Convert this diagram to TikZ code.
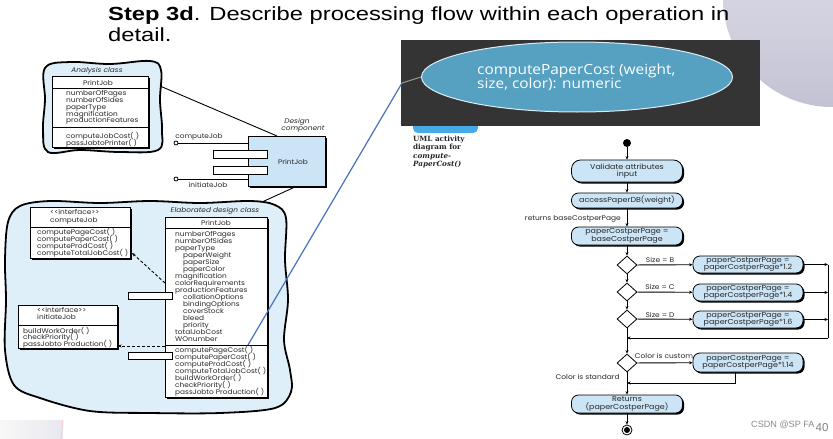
\documentclass[tikz,border=0pt]{standalone}
\usepackage{fontspec}
\setmainfont{Liberation Sans}
\newfontfamily\titlefont[FakeStretch=1.25]{Liberation Sans}
\newfontfamily\gfont[FakeStretch=1.1]{Poppins}
\newfontfamily\ofont[FakeStretch=1.1]{Open Sans}
\newfontfamily\sfont{DejaVu Serif}
\newcommand\mytight{\lineskiplimit=-20pt\relax}
\usetikzlibrary{shapes.geometric,arrows.meta,shadows}
\definecolor{cloudblue}{RGB}{223,239,250}
\definecolor{nodeblue}{RGB}{204,229,246}
\definecolor{darkbg}{RGB}{52,52,52}
\definecolor{ellblue}{RGB}{86,160,194}
\definecolor{linkblue}{RGB}{70,115,190}
\definecolor{circA}{RGB}{232,232,240}
\definecolor{circB}{RGB}{194,194,212}
\definecolor{wmgray}{RGB}{140,140,140}
\definecolor{barblue}{RGB}{70,170,230}
\definecolor{txt}{RGB}{40,40,40}
\tikzset{
 sh/.style={drop shadow={shadow xshift=1.6pt,shadow yshift=-1.6pt,fill=black,opacity=1}},
 classbox/.style={draw=black, line width=0.8pt, fill=white, sh, inner sep=0pt, anchor=north west},
 port/.style={draw=black, line width=0.8pt, fill=white, inner sep=0pt, anchor=north west},
 tx/.style={font=\gfont\fontsize{6.7}{7}\selectfont\mytight, text=txt, inner sep=0pt, align=left},
 itx/.style={font=\gfont\itshape\fontsize{6.7}{7}\selectfont, text=txt, inner sep=0pt},
 cloudshape/.style={draw=black, line width=1.8pt, fill=cloudblue},
 act/.style={draw=black, line width=0.8pt, fill=nodeblue, rounded corners=7pt, sh, inner sep=0pt, align=center, text=txt, font=\gfont\fontsize{7.2}{7.4}\selectfont\mytight, minimum width=111pt},
 dec/.style={diamond, draw=black, line width=0.8pt, fill=white, inner sep=0pt, minimum width=20pt, minimum height=18pt},
 flow/.style={line width=0.9pt, -{Stealth[length=3.5pt,width=3pt]}},
 lab/.style={font=\gfont\fontsize{6.8}{7}\selectfont, text=txt, inner sep=0pt},
 dashlink/.style={line width=0.9pt, dash pattern=on 3pt off 2pt, -{Stealth[length=3.5pt,width=3pt]}},
}
\begin{document}
\begin{tikzpicture}[x=1pt,y=-1pt]
\path[use as bounding box] (0,0) rectangle (833,439);
\fill[white] (0,0) rectangle (833,439);
% decorations of the slide
\shade[top color=circA, bottom color=circB] (832,-2) circle[radius=109pt];
\shade[left color=white!94!gray, right color=circA] (0,420) rectangle (63,439);
\draw[red!25, line width=0.6pt] (63,420) -- (61,439);
% title
\node[anchor=base west, inner sep=0pt, font=\titlefont\fontsize{19}{22}\selectfont] (title1) at (108,20.5) {\textbf{Step 3d}. Describe processing flow within each operation in};
\node[anchor=base west, inner sep=0pt, font=\titlefont\fontsize{19}{22}\selectfont] (title2) at (108,41.5) {detail.};

% ---------- analysis class cloud ----------
\draw[cloudshape] plot[smooth cycle, tension=0.6] coordinates {(45,68) (70,62) (110,64) (150,61) (161,70) (160,100) (162,130) (158,150) (120,152) (80,150) (48,152) (43,130) (45,100)};
\node[itx] (anl) at (97,71) {Analysis class};
\node[classbox, minimum width=96pt, minimum height=71pt] (ac) at (52,76) {};
\draw[line width=0.8pt] (52,88) -- (148,88);
\draw[line width=0.8pt] (52,127) -- (148,127);
\node[tx] (acn) at (98,83) {PrintJob};
\node[tx, anchor=north west, font=\gfont\fontsize{6.7}{6.75}\selectfont\mytight] (aca) at (66,90.5) {numberOfPages\\numberOfSides\\paperType\\magnification\\productionFeatures};
\node[tx, anchor=north west, font=\gfont\fontsize{6.7}{7}\selectfont\mytight] (acm) at (66,132.5) {computeJobCost( )\\passJobtoPrinter( )};

% ---------- design component ----------
\coordinate (acR) at (160,86);
\coordinate (compT) at (277,136);
\draw[line width=0.9pt] (acR) -- (compT);
\node[classbox, fill=nodeblue, minimum width=77pt, minimum height=50pt] (comp) at (248,136) {};
\node[tx] (compn) at (293,162) {PrintJob};
\node[port, minimum width=54pt, minimum height=8pt] (cp1) at (213,150) {};
\node[port, minimum width=54pt, minimum height=8pt] (cp2) at (213,166) {};
\node[circle, draw, line width=0.8pt, fill=white, inner sep=0pt, minimum size=4pt] (lpA) at (176,143) {};
\node[circle, draw, line width=0.8pt, fill=white, inner sep=0pt, minimum size=4pt] (lpB) at (176,179) {};
\draw[line width=0.8pt] (lpA) -- (comp.west |- lpA);
\draw[line width=0.8pt] (lpB) -- (comp.west |- lpB);
\node[tx] (lpAl) at (199,137) {computeJob};
\node[tx] (lpBl) at (208,185) {initiateJob};
\node[itx] (dc1) at (297,122) {Design};
\node[itx] (dc2) at (303,129.5) {component};

% ---------- elaborated design class cloud ----------
\coordinate (compB) at (295,187);
\coordinate (elT) at (262,202);
\draw[line width=0.9pt] (compB) -- (elT);
\draw[cloudshape] plot[smooth cycle, tension=0.55] coordinates {(8,222) (20,206) (50,201) (100,203) (150,201) (200,203) (250,201) (275,205) (286,218) (285,260) (288,300) (284,340) (290,370) (291,392) (275,408) (220,413) (150,413) (90,411) (40,398) (14,385) (5,350) (6,300) (5,260)};

% interface computeJob
\node[classbox, minimum width=100pt, minimum height=51pt] (ifA) at (30,207) {};
\draw[line width=0.8pt] (30,227) -- (130,227);
\node[tx, anchor=north west, font=\gfont\fontsize{6.7}{7.5}\selectfont\mytight] (ifAh) at (50,209.5) {{<}{<}interface{>}{>}\\computeJob};
\node[tx, anchor=north west] (ifAm) at (37,228) {computePageCost( )\\computePaperCost( )\\computeProdCost( )\\computeTotalJobCost( )};

% interface initiateJob
\node[classbox, minimum width=99pt, minimum height=43pt] (ifB) at (18,305) {};
\draw[line width=0.8pt] (18,325) -- (117,325);
\node[tx, anchor=north west, font=\gfont\fontsize{6.7}{6.5}\selectfont\mytight] (ifBh) at (37,307.5) {{<}{<}interface{>}{>}\\initiateJob};
\node[tx, anchor=north west, font=\gfont\fontsize{6.7}{6.6}\selectfont\mytight] (ifBm) at (23,326.8) {buildWorkOrder( )\\checkPriority( )\\passJobto Production( )};

% elaborated class
\node[itx] (ell) at (215,211) {Elaborated design class};
\node[classbox, minimum width=102pt, minimum height=180pt] (ec) at (165,217) {};
\draw[line width=0.8pt] (165,228) -- (267,228);
\draw[line width=0.8pt] (165,345) -- (267,345);
\node[tx] (ecn) at (216,222.5) {PrintJob};
\node[tx, anchor=north west] (eca) at (175,230.7) {numberOfPages\\numberOfSides\\paperType\\\hspace*{8pt}paperWeight\\\hspace*{8pt}paperSize\\\hspace*{8pt}paperColor\\magnification\\colorRequirements\\productionFeatures\\\hspace*{8pt}collationOptions\\\hspace*{8pt}bindingOptions\\\hspace*{8pt}coverStock\\\hspace*{8pt}bleed\\\hspace*{8pt}priority\\totalJobCost\\WOnumber};
\node[tx, anchor=north west] (ecm) at (175,346.3) {computePageCost( )\\computePaperCost( )\\computeProdCost( )\\computeTotalJobCost( )\\buildWorkOrder( )\\checkPriority( )\\passJobto Production( )};
\node[port, minimum width=44pt, minimum height=7pt] (ep1) at (128,292) {};
\node[port, minimum width=44pt, minimum height=7pt] (ep2) at (128,352) {};
\coordinate (dA1) at (165,283);
\coordinate (dA2) at (132,253);
\draw[dashlink] (dA1) -- (dA2);
\coordinate (dB1) at (165,346);
\coordinate (dB2) at (118,346);
\draw[dashlink] (dB1) -- (dB2);

% ---------- zoomed operation ----------
\draw[fill=barblue, draw=none, rounded corners=5pt] (413,116) rectangle (478,133);
\node[fill=darkbg, inner sep=0pt, anchor=north west, minimum width=359pt, minimum height=86pt] (dark) at (401,40) {};
\node[ellipse, fill=ellblue, draw=white!80!ellblue, line width=1pt, minimum width=311pt, minimum height=70pt, inner sep=0pt] (op) at (577,77) {};
\node[anchor=west, align=left, inner sep=0pt, text=white, font=\ofont\fontsize{14}{14}\selectfont\mytight] (opt) at (477,77.5) {computePaperCost (weight,\\size, color): numeric};
\coordinate (lkA) at (248,345);
\coordinate (lkB) at (402,83);
\draw[linkblue, line width=1.2pt] (lkA) -- (lkB);
\draw[gray!80, line width=1pt] (lkB) -- (op.west);

% ---------- activity diagram ----------
\node[anchor=north west, inner sep=0pt, align=left, text=txt, font=\sfont\bfseries\fontsize{7.2}{8.2}\selectfont\mytight] (uml) at (413,136) {UML activity\\diagram for\\\textit{compute-}\\\textit{PaperCost()}};
\node[circle, fill=black, inner sep=0pt, minimum size=8pt] (st) at (627,143) {};
\node[act, minimum height=22pt, rounded corners=9pt] (v1) at (627,171) {Validate attributes\\input};
\node[act, minimum height=15pt] (v2) at (627,200.5) {accessPaperDB(weight)};
\node[act, minimum height=18pt] (v3) at (627,236) {paperCostperPage =\\baseCostperPage};
\node[dec] (d1) at (627,265) {};
\node[dec] (d2) at (627,292) {};
\node[dec] (d3) at (627,319) {};
\node[dec] (d4) at (627,363) {};
\node[act, minimum width=110pt, minimum height=17pt] (nb) at (748,264.5) {paperCostperPage =\\paperCostperPage*1.2};
\node[act, minimum width=110pt, minimum height=17pt] (nc) at (748,292.5) {paperCostperPage =\\paperCostperPage*1.4};
\node[act, minimum width=110pt, minimum height=17pt] (nd) at (748,319.5) {paperCostperPage =\\paperCostperPage*1.6};
\node[act, minimum width=110pt, minimum height=19pt] (ne) at (748,362.5) {paperCostperPage =\\paperCostperPage*1.14};
\node[act, minimum height=18pt] (rt) at (627,404) {Returns\\(paperCostperPage)};
\node[circle, draw, line width=0.8pt, fill=white, inner sep=0pt, minimum size=10pt] (en) at (627,430) {};
\node[circle, fill=black, inner sep=0pt, minimum size=6pt] (enc) at (627,430) {};

\draw[flow] (st) -- (v1);
\draw[flow] (v1) -- (v2);
\draw[flow] (v2) -- (v3);
\node[lab, anchor=east] (rl) at (621,219) {returns baseCostperPage};
\draw[flow] (v3) -- (d1);
\draw[flow] (d1) -- (d2);
\draw[flow] (d2) -- (d3);
\draw[flow] (d3) -- (d4);
\draw[flow] (d1) -- (nb);
\draw[flow] (d2) -- (nc);
\draw[flow] (d3) -- (nd);
\node[lab] (lb) at (660,259.5) {Size = B};
\node[lab] (lc) at (660,287) {Size = C};
\node[lab] (ld) at (660,314.5) {Size = D};
\coordinate (mB) at (828,264.5);
\coordinate (mC) at (828,292.5);
\coordinate (mD) at (828,319.5);
\coordinate (mE) at (828,338);
\coordinate (jn) at (627,338);
\draw[flow] (nb) -- (mB);
\draw[flow] (nc) -- (mC);
\draw[flow] (nd) -- (mD);
\draw[line width=0.9pt] (mB) -- (mE);
\draw[flow] (mE) -- (jn);
\draw[flow] (d4) -- (ne);
\node[lab] (lcu) at (664,356) {Color is custom};
\coordinate (eb) at (735,383);
\coordinate (jn2) at (627,383);
\draw[flow] (ne.south -| eb) -- (eb) -- (jn2);
\draw[flow] (d4) -- (rt);
\node[lab, anchor=east] (lst) at (620,376.5) {Color is standard};
\draw[flow] (rt) -- (en);

% watermark and page number
\node[anchor=west, inner sep=0pt, text=wmgray, font=\fontsize{9.1}{10}\selectfont] (wm) at (751,425) {CSDN @SP FA};
\node[inner sep=0pt, text=gray, font=\fontsize{11.5}{12}\selectfont] (pg) at (822,428) {40};
\end{tikzpicture}
\end{document}
